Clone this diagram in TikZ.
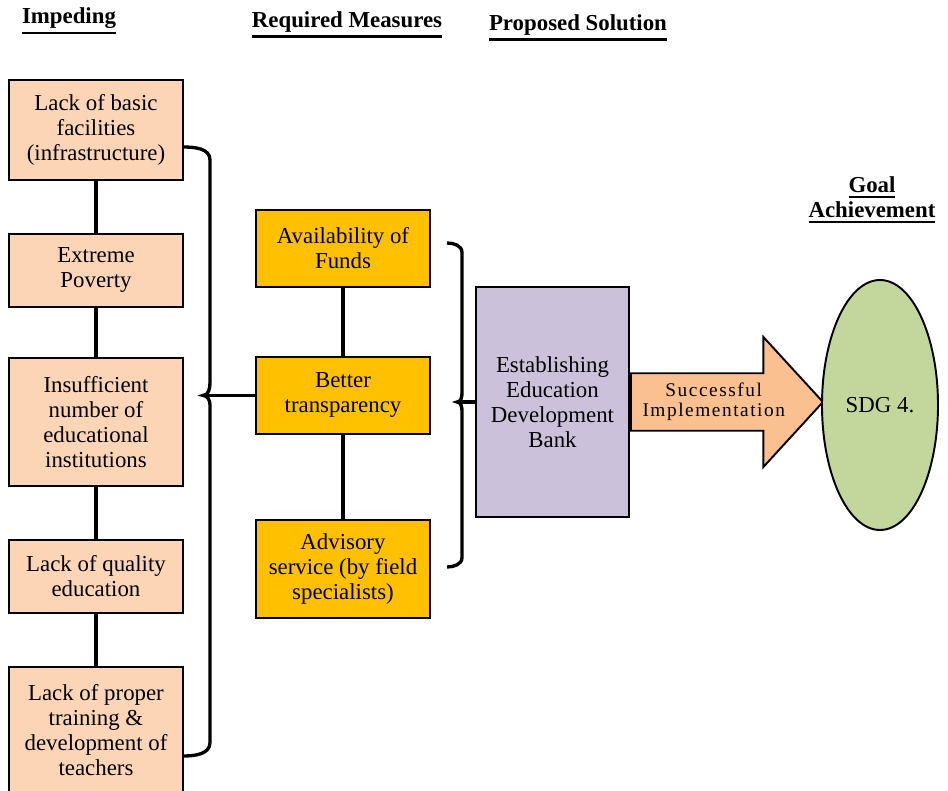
\documentclass[tikz,border=0pt]{standalone}
\usepackage{fontspec}
\setmainfont{Liberation Serif}
\newfontfamily\arrfont[LetterSpace=8]{Liberation Serif}
\usetikzlibrary{shapes.geometric, shapes.arrows, positioning, calc}
\definecolor{peach}{RGB}{251,213,181}
\definecolor{amber}{RGB}{255,192,0}
\definecolor{lilac}{RGB}{204,193,218}
\definecolor{apricot}{RGB}{250,192,144}
\definecolor{sage}{RGB}{195,214,155}
\newcommand{\bxfont}{\fontsize{13}{14.2}\selectfont}
\newcommand{\hul}[1]{\vtop{\hbox{#1}\kern1.6pt\hrule height 1.5pt}}

\begin{document}
\begin{tikzpicture}[
      imp/.style={rectangle, draw=black, line width=1.1pt, fill=peach,
                  minimum width=3.48cm, align=center, font=\bxfont},
      meas/.style={imp, fill=amber},
      head/.style={font=\bxfont\bfseries, align=center},
      link/.style={line width=2pt},
      brc/.style={line width=1.9pt},
      node distance=1.04cm
    ]
      \useasboundingbox (0,0) rectangle (18.96,-15.82);
      % headings
      \node[head] (h1) at (1.38,-0.42) {\hul{Impeding}};
      \node[head] (h2) at (6.94,-0.5) {\hul{Required Measures}};
      \node[head] (h3) at (11.56,-0.56) {\hul{Proposed Solution}};
      \node[head] (h4) at (17.44,-4.0) {\hul{Goal}\\\hul{Achievement}};
      % impeding factors
      \node[imp, minimum height=2cm] (a1) at (1.92,-2.6) {Lack of basic\\facilities\\(infrastructure)};
      \node[imp, minimum height=1.46cm, below=of a1] (a2) {Extreme\\Poverty};
      \node[imp, minimum height=2.56cm, below=0.98cm of a2] (a3) {Insufficient\\number of\\educational\\institutions};
      \node[imp, minimum height=1.46cm, below=of a3] (a4) {Lack of quality\\education};
      \node[imp, minimum height=2.54cm, below=of a4] (a5) {Lack of proper\\training \&\\development of\\teachers};
      \draw[link] (a1) -- (a2); \draw[link] (a2) -- (a3);
      \draw[link] (a3) -- (a4); \draw[link] (a4) -- (a5);
      % required measures
      \node[meas, minimum height=1.54cm] (b1) at (6.86,-4.97) {Availability of\\Funds};
      \node[meas, minimum height=1.54cm, below=1.36cm of b1] (b2) {Better\\transparency};
      \node[meas, minimum height=1.96cm, below=1.68cm of b2] (b3) {Advisory\\service (by field\\specialists)};
      \draw[link] (b1) -- (b2); \draw[link] (b2) -- (b3);
      % proposed solution
      \node[imp, fill=lilac, minimum width=3.06cm, minimum height=4.6cm] (c) at (11.05,-8.04)
        {Establishing\\Education\\Development\\Bank};
      \node[single arrow, draw=black, line width=1.1pt, fill=apricot, anchor=tail,
            minimum height=3.84cm, minimum width=2.6cm, single arrow head extend=0.65cm,
            single arrow tip angle=95, align=center, font=\arrfont\fontsize{11}{11.5}\selectfont]
        (arr) at (c.east) {Successful\\Implementation};
      \node[ellipse, draw=black, line width=1.1pt, fill=sage, minimum width=2.32cm,
            minimum height=5cm, font=\bxfont] (g) at (17.6,-8.1) {SDG 4.};
      % braces
      \coordinate (u1) at (3.66,-2.94);
      \coordinate (d1) at (3.66,-15.12);
      \coordinate (t1) at ($(b2.west)+(-1.04,0)$);
      \draw[brc] (u1) to[out=0,in=90] (4.2,-3.2) -- (4.2,-7.65) to[out=-90,in=0] (t1)
                 to[out=0,in=90] (4.2,-8.1) -- (4.2,-14.85) to[out=-90,in=0] (d1);
      \draw[brc] (t1) -- (b2);
      \coordinate (u2) at (8.94,-4.86);
      \coordinate (d2) at (8.94,-11.34);
      \coordinate (t2) at ($(c.west)+(-0.36,0)$);
      \draw[brc] (u2) to[out=0,in=90] (9.24,-5.05) -- (9.24,-7.85) to[out=-90,in=0] (t2)
                 to[out=0,in=90] (9.24,-8.23) -- (9.24,-11.15) to[out=-90,in=0] (d2);
      \draw[brc] (t2) -- (c);
    \end{tikzpicture}
\end{document}
